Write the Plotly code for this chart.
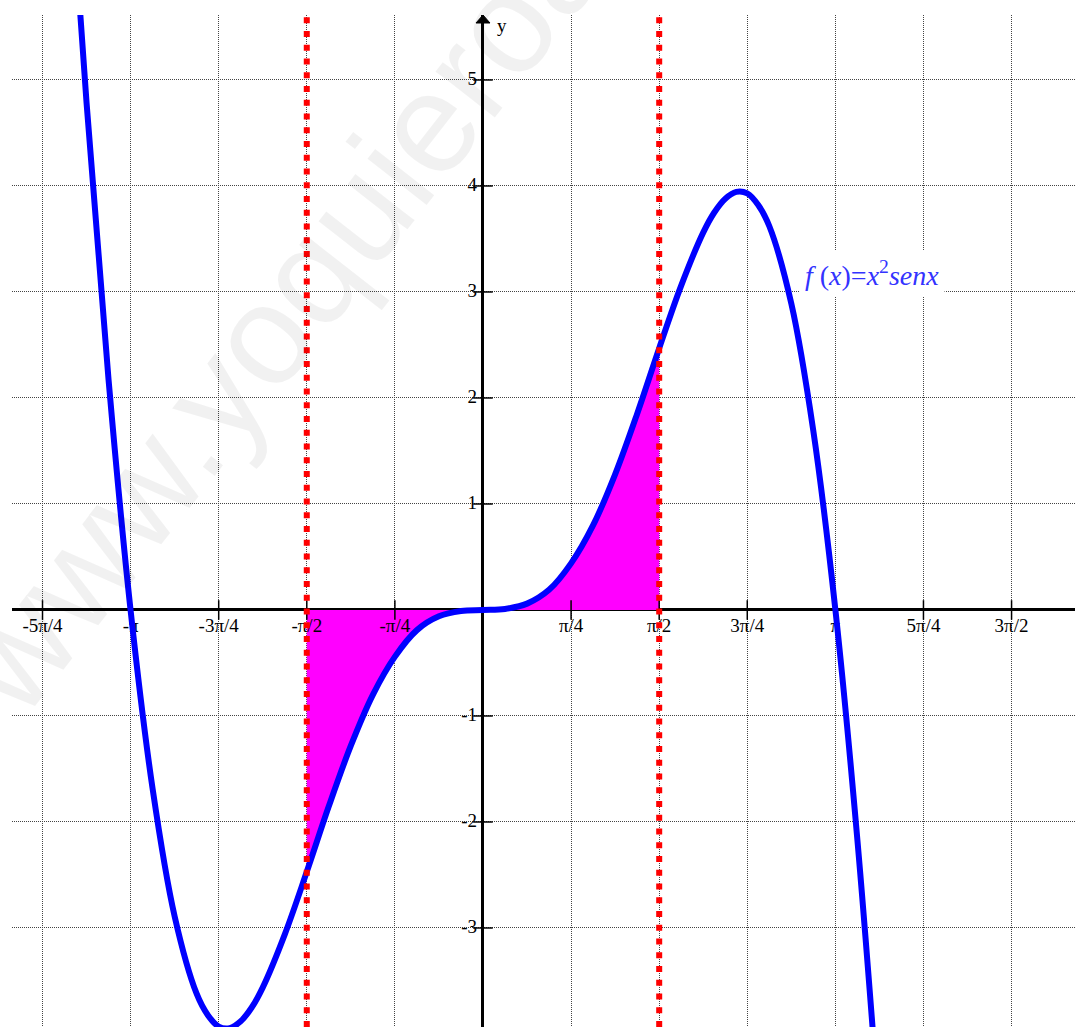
import math
import plotly.graph_objects as go

# ---- data ----
x_vals = [-3.731, -3.534, -3.338, -3.142, -2.945, -2.749, -2.553, -2.454, -2.356, -2.258, -2.160, -2.062,
          -1.963, -1.767, -1.571, -1.374, -1.178, -0.982, -0.785, -0.589, -0.393, -0.196,
          0.0, 0.196, 0.393, 0.589, 0.785, 0.982, 1.178, 1.374, 1.571, 1.767,
          1.963, 2.062, 2.160, 2.258, 2.356, 2.454, 2.553, 2.749, 2.945, 3.142, 3.338, 3.534]
y_vals = [7.73, 4.78, 2.17, 0.0, -1.69, -2.89, -3.62, -3.82, -3.93, -3.944, -3.88, -3.75,
          -3.56, -3.06, -2.47, -1.85, -1.28, -0.80, -0.44, -0.19, -0.06, -0.01,
          0.0, 0.01, 0.06, 0.19, 0.44, 0.80, 1.28, 1.85, 2.47, 3.06,
          3.56, 3.75, 3.88, 3.944, 3.93, 3.82, 3.62, 2.89, 1.69, 0.0, -2.17, -4.78]

interval = [-1.571, 1.571]  # shaded integration limits

x_tick_vals = [k * math.pi / 4 for k in [-5, -4, -3, -2, -1, 1, 2, 3, 4, 5, 6]]
x_tick_text = ["-5π/4", "-π", "-3π/4", "-π/2", "-π/4", "π/4", "π/2", "3π/4", "π", "5π/4", "3π/2"]
y_tick_vals = [-3, -2, -1, 1, 2, 3, 4, 5]
y_tick_text = ["-3", "-2", "-1", "1", "2", "3", "4", "5"]

x_grid = [k * math.pi / 4 for k in range(-5, 7)]
y_grid = [-3, -2, -1, 0, 1, 2, 3, 4, 5]

func_label = "<i>f</i> (<i>x</i>)=<i>x</i><sup>2</sup><i>senx</i>"

# ---- geometry ----
W, H = 1075, 1027
XR = [-4.199, 5.278]
YR = [-3.934, 5.613]
SERIF = "Liberation Serif"

fig = go.Figure()

# shaded region
tol = 1e-3
fx = [x for x in x_vals if interval[0] - tol <= x <= interval[1] + tol]
fy = [y for x, y in zip(x_vals, y_vals) if interval[0] - tol <= x <= interval[1] + tol]
fig.add_trace(go.Scatter(x=fx, y=fy, mode="lines", line=dict(width=0, shape="spline"),
                         fill="tozeroy", fillcolor="#FF00FF", hoverinfo="skip", showlegend=False))

# tick marks on the axes
fig.add_trace(go.Scatter(x=x_tick_vals, y=[0] * len(x_tick_vals), mode="markers",
                         marker=dict(symbol="line-ns-open", size=14, color="black",
                                     line=dict(width=1.5, color="black")),
                         hoverinfo="skip", showlegend=False, cliponaxis=False))
fig.add_trace(go.Scatter(x=[0] * len(y_tick_vals), y=y_tick_vals, mode="markers",
                         marker=dict(symbol="line-ew-open", size=14, color="black",
                                     line=dict(width=1.5, color="black")),
                         hoverinfo="skip", showlegend=False, cliponaxis=False))

# tick labels (under the curve)
lab_dy = 17 / 106.0
fig.add_trace(go.Scatter(x=x_tick_vals, y=[-lab_dy] * len(x_tick_vals), mode="text",
                         text=x_tick_text, textposition="middle center",
                         textfont=dict(family=SERIF, size=19, color="black"),
                         hoverinfo="skip", showlegend=False))
lab_dx = 6 / 112.16
fig.add_trace(go.Scatter(x=[-lab_dx] * len(y_tick_vals), y=y_tick_vals, mode="text",
                         text=y_tick_text, textposition="middle left",
                         textfont=dict(family=SERIF, size=19, color="black"),
                         hoverinfo="skip", showlegend=False))

# the curve
fig.add_trace(go.Scatter(x=x_vals, y=y_vals, mode="lines",
                         line=dict(color="#0000FF", width=6, shape="spline"),
                         hoverinfo="skip", showlegend=False))

# red dotted limits
for xv in interval:
    fig.add_shape(type="line", x0=xv, x1=xv, y0=YR[0], y1=YR[1], xref="x", yref="y",
                  line=dict(color="#FF0000", width=6, dash="6px,7.75px"), layer="above")

# y axis arrow head
fig.add_shape(type="path", xref="x", yref="y", xsizemode="pixel", ysizemode="pixel",
              xanchor=0, yanchor=YR[1], path="M -7,-8 L 0,0 L 7,-8 Z",
              fillcolor="black", line=dict(color="black", width=1), layer="above")

# watermark
fig.add_annotation(text="www.yoquieroaprobar.es", xref="paper", yref="paper",
                   x=(462 - 12) / 1063, y=(1027 - 80) / 1012, showarrow=False,
                   textangle=-52, xanchor="center", yanchor="middle",
                   font=dict(family="Liberation Sans", size=142, color="rgba(0,0,0,0.055)"))

# axis names
fig.add_annotation(text="y", x=(502 - 483) / 112.16, y=(610 - 26) / 106, showarrow=False,
                   font=dict(family=SERIF, size=19, color="black"))
fig.add_annotation(text="x", x=(1077 - 483) / 112.16, y=(610 - 594) / 106, showarrow=False,
                   font=dict(family=SERIF, size=19, color="black"))

# function label
fig.add_annotation(text=func_label, x=(872 - 483) / 112.16, y=(610 - 274) / 106,
                   showarrow=False, bgcolor="white", borderpad=5,
                   font=dict(family=SERIF, size=28, color="#3333FF"))

fig.update_layout(
    width=W, height=H,
    margin=dict(l=12, r=0, t=15, b=0),
    paper_bgcolor="white", plot_bgcolor="white",
    showlegend=False,
    xaxis=dict(range=XR, tickmode="array", tickvals=x_grid, showticklabels=False,
               showgrid=True, gridcolor="#444444", gridwidth=1, griddash="1px,1px",
               zeroline=True, zerolinecolor="black", zerolinewidth=2.5,
               showline=False, ticks="", fixedrange=True),
    yaxis=dict(range=YR, tickmode="array", tickvals=y_grid, showticklabels=False,
               showgrid=True, gridcolor="#444444", gridwidth=1, griddash="1px,1px",
               zeroline=True, zerolinecolor="black", zerolinewidth=2.5,
               showline=False, ticks="", fixedrange=True),
)

fig.write_html("out.html", config={"displayModeBar": False},
               post_script="document.body.style.margin='0';")
